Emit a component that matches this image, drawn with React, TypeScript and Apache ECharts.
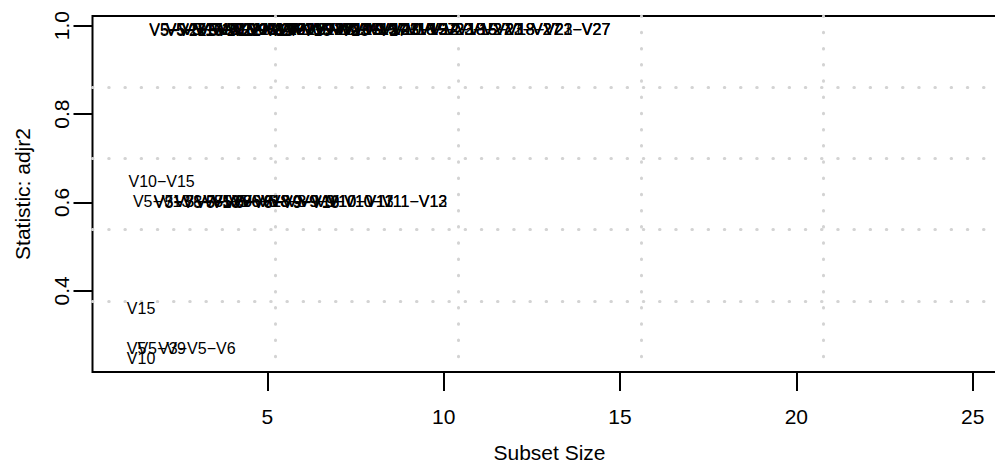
import React, { useEffect, useRef } from "react";
import * as echarts from "echarts";

// Subset labels, their subset size (x) and adjusted R^2 (y)
const subsetLabels = [
  "V15", "V5", "V10",
  "V10−V15", "V5−V9", "V3−V5−V6",
  "V5−V13", "V5−V8−V13", "V5−V8−V9−V13", "V5−V6−V8−V9−V10",
  "V5−V6−V8−V9−V10−V11", "V5−V6−V8−V9−V10−V11−V12",
  "V3−V5−V13", "V3−V5−V8−V13", "V5−V6−V8−V9−V13", "V5−V6−V8−V9−V10−V13",
  "V5−V6−V8−V9−V10−V11−V13",
  "V5−V15−V27", "V5−V15−V22−V27", "V5−V12−V15−V22−V27",
  "V5−V10−V12−V15−V22−V27", "V5−V9−V10−V12−V15−V22−V27",
  "V5−V9−V10−V12−V15−V18−V22−V27", "V5−V8−V9−V10−V12−V15−V18−V22−V27",
  "V5−V6−V8−V9−V10−V12−V15−V18−V22−V27",
  "V5−V22−V27", "V5−V15−V21−V27", "V5−V14−V15−V21−V27",
  "V5−V10−V14−V15−V23−V27", "V5−V9−V10−V14−V15−V23−V27",
  "V5−V9−V10−V14−V15−V18−V23−V27", "V5−V8−V9−V10−V14−V15−V18−V21−V27",
  "V5−V6−V8−V9−V10−V14−V15−V18−V21−V27",
  "V5−V13−V22−V27", "V5−V12−V13−V22−V27", "V5−V10−V13−V15−V25−V27",
  "V5−V9−V10−V13−V15−V25−V27", "V5−V9−V10−V12−V13−V15−V23−V27",
  "V5−V8−V9−V10−V12−V15−V18−V23−V27", "V5−V6−V8−V9−V10−V12−V15−V18−V23−V27",
];
const subsetSizes = [
  1, 1, 1,
  2, 2, 3,
  2, 3, 4, 5, 6, 7,
  3, 4, 5, 6, 7,
  3, 4, 5, 6, 7, 8, 9, 10,
  3, 4, 5, 6, 7, 8, 9, 10,
  4, 5, 6, 7, 8, 9, 10,
];
const adjr2 = [
  0.36, 0.269, 0.2465,
  0.647, 0.269, 0.269,
  0.603, 0.602, 0.603, 0.602, 0.603, 0.603,
  0.601, 0.602, 0.601, 0.602, 0.602,
  0.991, 0.992, 0.991, 0.992, 0.991, 0.992, 0.991, 0.992,
  0.990, 0.991, 0.991, 0.991, 0.992, 0.991, 0.992, 0.991,
  0.990, 0.991, 0.990, 0.991, 0.991, 0.992, 0.992,
];
const sizeRange = [1, 25];
const xTicks = [5, 10, 15, 20, 25];
const yTicks = [0.4, 0.6, 0.8, 1.0];

const FONT = '"Liberation Sans", Arial, Helvetica, sans-serif';

export default function App() {
  const ref = useRef<HTMLDivElement>(null);
  useEffect(() => {
    document.body.style.margin = "0";
    if (!ref.current) return;
    const chart = echarts.init(ref.current, undefined, { renderer: "svg" });
    const yMinD = Math.min(...adjr2);
    const yMaxD = Math.max(...adjr2);
    const yPad = (yMaxD - yMinD) * 0.04;
    const xPad = (sizeRange[1] - sizeRange[0]) * 0.04;
    const minSize = sizeRange[0];
    const data = subsetLabels.map((l, i) => ({
      name: l,
      value: [subsetSizes[i], adjr2[i]],
      label: subsetSizes[i] === minSize ? { position: "right", distance: 0 } : undefined,
    }));
    const dotted = {
      show: true,
      showMinLine: false,
      showMaxLine: false,
      lineStyle: { color: "#d3d3d3", width: 3, type: [0.5, 15.7], cap: "round" },
    };
    chart.setOption({
      animation: false,
      textStyle: { fontFamily: FONT },
      grid: {
        left: 92.5,
        top: 16,
        width: 914,
        height: 356,
        show: true,
        borderColor: "#000",
        borderWidth: 2,
        backgroundColor: "transparent",
        containLabel: false,
        outerBoundsMode: "none",
      },
      xAxis: [
        {
          type: "value",
          min: sizeRange[0] - xPad,
          max: sizeRange[1] + xPad,
          position: "bottom",
          axisLine: { show: false },
          splitLine: { show: false },
          axisTick: { show: true, customValues: xTicks, length: 19, lineStyle: { color: "#000", width: 2 } },
          axisLabel: {
            customValues: xTicks,
            fontSize: 21,
            color: "#000",
            fontFamily: FONT,
            margin: 44,
            verticalAlign: "middle",
          },
          name: "Subset Size",
          nameLocation: "middle",
          nameGap: 80,
          nameTextStyle: { fontSize: 21, color: "#000", fontFamily: FONT, verticalAlign: "middle" },
        },
        {
          type: "value",
          min: 0,
          max: 5,
          interval: 1,
          position: "bottom",
          axisLine: { show: false },
          axisTick: { show: false },
          axisLabel: { show: false },
          splitLine: dotted,
        },
      ],
      yAxis: [
        {
          type: "value",
          min: yMinD - yPad,
          max: yMaxD + yPad,
          position: "left",
          axisLine: { show: false },
          splitLine: { show: false },
          axisTick: { show: true, customValues: yTicks, length: 19, lineStyle: { color: "#000", width: 2 } },
          axisLabel: {
            customValues: yTicks,
            fontSize: 21,
            color: "#000",
            fontFamily: FONT,
            rotate: 90,
            margin: 31.5,
            align: "center",
            verticalAlign: "middle",
            formatter: (v: number) => v.toFixed(1),
          },
          name: "Statistic: adjr2",
          nameLocation: "middle",
          nameRotate: 90,
          nameGap: 70.5,
          nameTextStyle: { fontSize: 21, color: "#000", fontFamily: FONT, verticalAlign: "middle", align: "center" },
        },
        {
          type: "value",
          min: 0,
          max: 5,
          interval: 1,
          position: "left",
          axisLine: { show: false },
          axisTick: { show: false },
          axisLabel: { show: false },
          splitLine: dotted,
        },
      ],
      series: [
        {
          type: "scatter",
          xAxisIndex: 0,
          yAxisIndex: 0,
          symbolSize: 1,
          itemStyle: { color: "rgba(0,0,0,0)" },
          z: 5,
          label: {
            show: true,
            position: "inside",
            formatter: "{b}",
            fontSize: 16,
            color: "#000",
            opacity: 1,
            fontFamily: FONT,
          },
          data,
        },
      ],
    });
    return () => chart.dispose();
  }, []);
  return <div ref={ref} style={{ position: "absolute", left: 0, top: 0, width: 995, height: 466 }} />;
}
